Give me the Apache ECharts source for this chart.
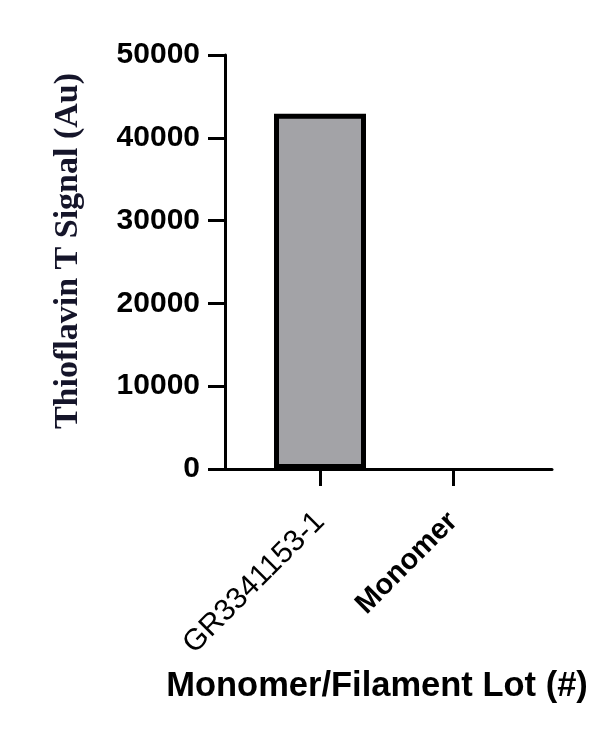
<!DOCTYPE html>
<html><head><meta charset="utf-8">
<script src="https://cdn.jsdelivr.net/npm/echarts@6/dist/echarts.min.js"></script>
<style>html,body{margin:0;padding:0;background:#fff}#c{width:608px;height:743px}</style>
</head><body><div id="c"></div>
<script>
const categories = ['GR3341153-1', 'Monomer'];
const signal = [42900, 0];
const yTicks = [0, 10000, 20000, 30000, 40000, 50000];
const yTitle = 'Thioflavin T Signal (Au)';
const xTitle = 'Monomer/Filament Lot (#)';

const chart = echarts.init(document.getElementById('c'));
const gTop = 55, gBottom = 743 - 469;
chart.setOption({
  animation: false,
  grid: [
    {left: 225, right: 56, top: gTop, bottom: gBottom},
    {left: 253.5, right: 88.5, top: gTop, bottom: gBottom}
  ],
  xAxis: [
    {gridIndex: 0, type: 'value', min: 0, max: 1,
     axisLine: {show: true, lineStyle: {color: '#000', width: 3}},
     axisTick: {show: false}, axisLabel: {show: false}, splitLine: {show: false}},
    {gridIndex: 1, type: 'category',
     data: categories.map((c, i) => i === 1 ? {value: c, textStyle: {fontWeight: 'bold', fontSize: 29}} : c),
     axisLine: {show: false},
     axisTick: {show: true, alignWithLabel: true, length: 17, lineStyle: {color: '#000', width: 3}},
     axisLabel: {rotate: 45, margin: 48, fontFamily: 'Liberation Sans', fontSize: 30, color: '#000', interval: 0}}
  ],
  yAxis: [
    {gridIndex: 0, type: 'value', min: yTicks[0], max: yTicks[yTicks.length - 1], interval: yTicks[1] - yTicks[0],
     axisLine: {show: true, lineStyle: {color: '#000', width: 3}},
     axisTick: {show: true, length: 17, lineStyle: {color: '#000', width: 3}},
     axisLabel: {margin: 25, fontFamily: 'Liberation Sans', fontWeight: 'bold', fontSize: 30, color: '#000',
                 formatter: v => String(v)},
     splitLine: {show: false}},
    {gridIndex: 1, type: 'value', min: yTicks[0], max: yTicks[yTicks.length - 1], show: false}
  ],
  series: [{
    type: 'bar', xAxisIndex: 1, yAxisIndex: 1, barWidth: 92,
    data: signal.map(v => v === 0 ? {value: v, itemStyle: {borderWidth: 0}} : v),
    itemStyle: {color: '#a3a3a7', borderColor: '#000', borderWidth: 5}
  }],
  graphic: [
    {type: 'text', x: 68, y: 251, rotation: Math.PI / 2,
     style: {text: yTitle, fontFamily: 'Liberation Serif', fontWeight: 'bold', fontSize: 34,
             fill: '#15152a', align: 'center', verticalAlign: 'middle'}},
    {type: 'text', x: 377, y: 686,
     style: {text: xTitle, fontFamily: 'Liberation Sans', fontWeight: 'bold', fontSize: 34.5,
             fill: '#000', align: 'center', verticalAlign: 'middle'}}
  ]
});
</script></body></html>
